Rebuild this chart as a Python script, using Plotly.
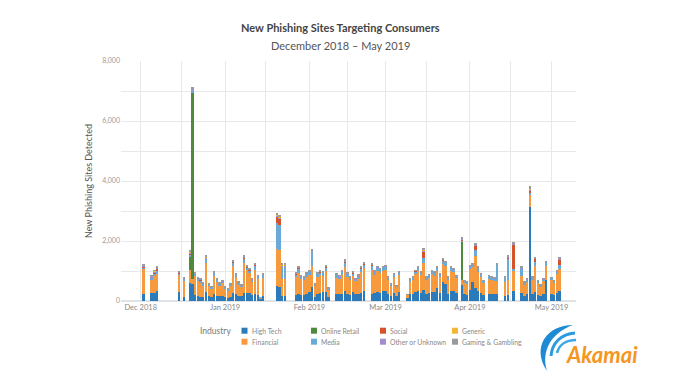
import plotly.graph_objects as go

# ---------------- data ----------------
dates = [
    # Dec 2018
    "2018-12-02", "2018-12-05", "2018-12-06", "2018-12-07", "2018-12-15", "2018-12-17",
    "2018-12-19", "2018-12-20", "2018-12-21", "2018-12-22", "2018-12-23", "2018-12-24",
    "2018-12-25", "2018-12-26", "2018-12-27", "2018-12-28", "2018-12-29", "2018-12-30", "2018-12-31",
    # Jan 2019
    "2019-01-01", "2019-01-02", "2019-01-03", "2019-01-04", "2019-01-05", "2019-01-06", "2019-01-07",
    "2019-01-08", "2019-01-09", "2019-01-10", "2019-01-11", "2019-01-12", "2019-01-13", "2019-01-14",
    "2019-01-15", "2019-01-20", "2019-01-21", "2019-01-22", "2019-01-23", "2019-01-27", "2019-01-28",
    "2019-01-29", "2019-01-30", "2019-01-31",
    # Feb 2019
    "2019-02-01", "2019-02-02", "2019-02-03", "2019-02-04", "2019-02-05", "2019-02-06", "2019-02-07",
    "2019-02-08", "2019-02-11", "2019-02-12", "2019-02-13", "2019-02-14", "2019-02-15", "2019-02-16",
    "2019-02-17", "2019-02-18", "2019-02-19", "2019-02-20", "2019-02-21", "2019-02-24", "2019-02-25",
    "2019-02-26", "2019-02-27", "2019-02-28",
    # Mar 2019
    "2019-03-01", "2019-03-02", "2019-03-03", "2019-03-04", "2019-03-05", "2019-03-06", "2019-03-09",
    "2019-03-10", "2019-03-11", "2019-03-12", "2019-03-13", "2019-03-14", "2019-03-15", "2019-03-16",
    "2019-03-17", "2019-03-18", "2019-03-19", "2019-03-20", "2019-03-21", "2019-03-22", "2019-03-23",
    "2019-03-24", "2019-03-25", "2019-03-26", "2019-03-27", "2019-03-29", "2019-03-30", "2019-03-31",
    # Apr 2019
    "2019-04-01", "2019-04-02", "2019-04-03", "2019-04-04", "2019-04-05", "2019-04-06", "2019-04-08",
    "2019-04-09", "2019-04-10", "2019-04-11", "2019-04-14", "2019-04-15", "2019-04-17", "2019-04-20",
    "2019-04-21", "2019-04-22", "2019-04-23", "2019-04-24", "2019-04-25", "2019-04-26", "2019-04-27",
    "2019-04-28", "2019-04-29",
    # May 2019
    "2019-05-01", "2019-05-02", "2019-05-03", "2019-05-04",
]

high_tech = [
    230, 260, 280, 340, 310, 140, 600, 560, 200, 170, 150, 140, 310, 180, 130, 250, 160, 170, 170,
    120, 110, 150, 280, 230, 180, 160, 280, 260, 270, 190, 220, 200, 80, 160, 500, 480, 180, 170,
    210, 220, 200, 190, 250,
    300, 460, 150, 240, 260, 290, 300, 150, 230, 220, 250, 320, 220, 210, 290, 230, 240, 270, 330,
    250, 270, 290, 280, 330,
    340, 240, 180, 260, 160, 300, 100, 230, 250, 300, 320, 280, 360, 240, 260, 300, 290, 420, 280,
    620, 560, 250, 350, 330, 260, 520, 220, 200,
    380, 620, 450, 330, 270, 200, 250, 230, 230, 250, 180, 200, 340, 260, 180, 220, 3120, 240, 300,
    200, 170, 230, 700,
    240, 210, 280, 320,
]
financial = [
    850, 450, 570, 560, 560, 540, 430, 160, 620, 500, 460, 380, 960, 320, 300, 570, 480, 360, 430,
    290, 250, 350, 880, 560, 380, 320, 1000, 760, 650, 470, 800, 520, 20, 610, 1250, 1220, 560, 560,
    590, 730, 540, 500, 560,
    580, 700, 350, 570, 600, 560, 700, 230, 550, 520, 620, 820, 580, 480, 540, 430, 500, 700, 780,
    800, 610, 700, 650, 660,
    690, 470, 340, 540, 310, 560, 100, 420, 450, 600, 680, 580, 920, 470, 520, 600, 560, 580, 530,
    620, 600, 460, 650, 630, 500, 180, 400, 370,
    680, 500, 1050, 650, 530, 420, 480, 460, 440, 420, 460, 500, 690, 560, 370, 430, 430, 460, 880,
    410, 320, 430, 480,
    450, 400, 610, 760,
]
online_retail = [
    0, 0, 0, 0, 0, 0, 450, 6230, 0, 0, 0, 0, 0, 0, 0, 0, 0, 0, 0,
    0, 0, 0, 0, 0, 0, 0, 0, 0, 0, 0, 0, 0, 0, 0, 0, 0, 0, 0, 0, 0, 0, 0, 0,
    0, 0, 0, 0, 0, 0, 0, 0, 0, 0, 0, 0, 0, 0, 0, 0, 0, 0, 0, 0, 0, 0, 0, 0,
    0, 0, 0, 0, 0, 0, 0, 0, 0, 0, 0, 0, 0, 0, 0, 0, 0, 0, 0, 0, 0, 0, 0, 0, 0, 1280, 0, 0,
    0, 0, 0, 0, 0, 0, 0, 0, 0, 0, 0, 0, 0, 0, 0, 0, 0, 0, 0, 0, 0, 0, 0,
    0, 0, 0, 0,
]
media = [
    40, 60, 80, 100, 50, 60, 80, 60, 80, 70, 80, 50, 130, 50, 40, 80, 60, 50, 60,
    40, 40, 50, 120, 80, 50, 40, 140, 110, 100, 60, 160, 90, 10, 100, 840, 820, 400, 410,
    90, 130, 80, 80, 90,
    90, 480, 60, 90, 100, 90, 120, 50, 90, 80, 110, 150, 100, 80, 100, 70, 90, 120, 120,
    140, 100, 120, 110, 110,
    120, 70, 50, 90, 40, 80, 20, 60, 80, 90, 100, 90, 160, 70, 90, 100, 90, 110, 80,
    120, 110, 70, 110, 100, 80, 40, 60, 50,
    100, 100, 200, 130, 90, 60, 110, 90, 90, 530, 130, 700, 40, 250, 70, 80, 80, 80, 120,
    65, 50, 70, 100,
    80, 65, 100, 120,
]
social = [
    20, 20, 30, 70, 20, 10, 30, 20, 10, 10, 10, 10, 30, 0, 0, 20, 10, 0, 0,
    0, 0, 0, 20, 10, 0, 0, 40, 20, 20, 0, 20, 10, 0, 10, 220, 220, 20, 20, 10, 20, 10, 0, 10,
    10, 20, 0, 10, 10, 0, 20, 0, 10, 10, 10, 40, 10, 0, 10, 0, 0, 10, 20, 20, 10, 15, 10, 10,
    10, 0, 0, 0, 0, 0, 0, 0, 0, 10, 10, 0, 220, 0, 0, 0, 0, 0, 0, 20, 0, 0, 0, 0, 0, 20, 0, 0,
    0, 0, 150, 0, 0, 0, 0, 0, 0, 20, 0, 60, 820, 20, 0, 0, 50, 0, 110, 0, 0, 0, 10,
    0, 0, 0, 180,
]
other_unknown = [
    30, 20, 30, 30, 20, 20, 40, 40, 20, 20, 20, 10, 30, 15, 10, 20, 10, 10, 15,
    10, 10, 15, 20, 15, 10, 10, 20, 15, 15, 15, 20, 15, 0, 15, 50, 50, 30, 30, 15, 15, 10, 15, 10,
    10, 20, 10, 10, 15, 10, 15, 5, 15, 10, 15, 20, 15, 15, 10, 10, 15, 15, 10, 15, 15, 15, 15, 10,
    15, 10, 5, 10, 5, 10, 0, 10, 10, 10, 15, 10, 30, 10, 10, 10, 12, 10, 10, 15, 15, 10, 10, 10, 5,
    30, 5, 5,
    15, 10, 30, 10, 10, 5, 5, 10, 10, 10, 10, 20, 30, 20, 5, 5, 50, 10, 20, 5, 5, 10, 15,
    10, 5, 15, 20,
]
generic = [
    10, 10, 10, 10, 0, 0, 10, 10, 0, 0, 0, 0, 10, 0, 0, 0, 0, 0, 0,
    0, 0, 0, 0, 0, 0, 0, 10, 0, 0, 0, 0, 0, 0, 0, 20, 20, 10, 10, 0, 0, 0, 0, 0,
    0, 0, 0, 0, 0, 0, 0, 0, 0, 0, 0, 10, 0, 0, 0, 0, 0, 0, 0, 0, 0, 0, 0, 0,
    0, 0, 0, 0, 0, 0, 0, 0, 0, 0, 0, 0, 10, 0, 0, 0, 0, 0, 0, 0, 0, 0, 0, 0, 0, 10, 0, 0,
    0, 0, 10, 0, 0, 0, 0, 0, 0, 0, 0, 0, 0, 0, 0, 0, 20, 0, 0, 0, 0, 0, 0,
    0, 0, 0, 0,
]
gaming_gambling = [
    50, 30, 30, 40, 40, 30, 60, 70, 40, 30, 30, 20, 55, 20, 20, 30, 30, 20, 25,
    15, 10, 20, 40, 25, 20, 10, 35, 30, 25, 25, 30, 25, 0, 25, 70, 70, 60, 50, 30, 30, 25, 25, 25,
    20, 40, 20, 25, 25, 25, 25, 15, 25, 25, 25, 30, 25, 25, 25, 20, 25, 30, 30, 30, 25, 25, 25, 25,
    25, 20, 15, 20, 15, 25, 10, 20, 20, 20, 25, 20, 50, 20, 20, 20, 25, 25, 20, 25, 25, 20, 25, 20,
    20, 40, 15, 15,
    25, 25, 50, 25, 20, 15, 20, 20, 20, 25, 30, 50, 55, 35, 20, 20, 80, 20, 45, 20, 15, 20, 25,
    20, 20, 25, 50,
]

industries = ["High Tech", "Financial", "Online Retail", "Media", "Social",
              "Other or Unknown", "Generic", "Gaming & Gambling"]
colors = ["#2b7bba", "#f79a3e", "#4f8a3c", "#6aaad8", "#d4532b",
          "#a58bd0", "#f2b735", "#9a9a9a"]
values = [high_tech, financial, online_retail, media, social,
          other_unknown, generic, gaming_gambling]

month_ticks = ["2018-12-01", "2019-01-01", "2019-02-01", "2019-03-01", "2019-04-01", "2019-05-01"]
month_labels = ["Dec 2018", "Jan 2019", "Feb 2019", "Mar 2019", "Apr 2019", "May 2019"]
mid_month_grid = ["2018-12-16", "2019-01-16", "2019-02-15", "2019-03-16", "2019-04-16"]

# legend layout: two rows of four entries (reading order as in the reference)
legend_rows = [["High Tech", "Online Retail", "Social", "Generic"],
               ["Financial", "Media", "Other or Unknown", "Gaming & Gambling"]]

# ---------------- figure ----------------
FONT = "Lato, 'Open Sans', sans-serif"
L, R, T, B = 121, 104, 61, 88
W, H = 680, 389
PW, PH = W - L - R, H - T - B


def px(xp, yp):
    """pixel position in the page -> paper coordinates (for decorations)"""
    return (xp - L) / PW, (H - B - yp) / PH


fig = go.Figure()
for name, vals, col in zip(industries, values, colors):
    fig.add_trace(go.Bar(x=dates, y=vals, name=name, marker=dict(color=col, line=dict(width=0)),
                         showlegend=False))

fig.update_layout(
    width=W, height=H,
    margin=dict(l=L, r=R, t=T, b=B, pad=0),
    paper_bgcolor="white", plot_bgcolor="white",
    barmode="stack", bargap=0.12,
    showlegend=False,
    font=dict(family=FONT, color="#666"),
    xaxis=dict(type="date", range=["2018-11-23 18:00", "2019-05-10"],
               tickmode="array", tickvals=month_ticks, ticktext=month_labels,
               ticks="", showgrid=True, gridcolor="#e6e8ec", gridwidth=1,
               minor=dict(tickmode="array", tickvals=mid_month_grid, showgrid=True,
                          gridcolor="#e6e8ec", ticks=""),
               tickfont=dict(family=FONT, size=7.5, color="#888"),
               showline=False, zeroline=False),
    yaxis=dict(range=[0, 8000], dtick=2000, tickformat=",", ticks="",
               showgrid=True, gridcolor="#e6e8ec",
               minor=dict(dtick=1000, showgrid=True, gridcolor="#e6e8ec"),
               tickfont=dict(family=FONT, size=7, color="#999"),
               title=dict(text="New Phishing Sites Detected", standoff=8,
                          font=dict(family=FONT, size=9, color="#555")),
               zeroline=True, zerolinecolor="#dfe2e6", showline=False),
)

# titles
tx, ty = px(340, 27)
_, sy = px(340, 45)
fig.add_annotation(text="<b>New Phishing Sites Targeting Consumers</b>", x=tx, y=ty,
                   xref="paper", yref="paper", showarrow=False, xanchor="center", yanchor="middle",
                   font=dict(family=FONT, size=11, color="#444"))
fig.add_annotation(text="December 2018 – May 2019", x=tx, y=sy,
                   xref="paper", yref="paper", showarrow=False, xanchor="center", yanchor="middle",
                   font=dict(family=FONT, size=11, color="#555"))

# legend (heading + swatches + labels)
ix, iy = px(215, 331)
fig.add_annotation(text="Industry", x=ix, y=iy, xref="paper", yref="paper", showarrow=False,
                   xanchor="center", yanchor="middle", font=dict(family=FONT, size=8.5, color="#777"))
col_x = [244.5, 314, 383, 455]
row_y = [330.7, 341.7]
for r, row in enumerate(legend_rows):
    for c, name in enumerate(row):
        cx, cy = col_x[c], row_y[r]
        x0, y0 = px(cx - 3, cy + 3)
        x1, y1 = px(cx + 3, cy - 3)
        fig.add_shape(type="rect", xref="paper", yref="paper", x0=x0, y0=y0, x1=x1, y1=y1,
                      fillcolor=colors[industries.index(name)], line=dict(width=0))
        lx, ly = px(cx + 5, cy)
        fig.add_annotation(text=name, x=lx, y=ly, xref="paper", yref="paper", showarrow=False,
                           xanchor="left", yanchor="middle",
                           font=dict(family=FONT, size=6.8, color="#888"))

# Akamai logo (decoration)
def path(cmds):
    out = []
    for c in cmds:
        if isinstance(c, str):
            out.append(c)
        else:
            x, y = px(*c)
            out.append(f"{x:.4f},{y:.4f}")
    return " ".join(out)

crescent = path(["M", (573, 325), "C", (547, 325), (531, 347), (547, 371),
                 "C", (541, 351), (551, 333), (573, 325), "Z"])
arc2 = path(["M", (551, 356), "C", (552, 343), (561, 334), (575, 333)])
arc3 = path(["M", (557, 353), "C", (559, 345), (566, 340), (576, 340)])
fig.add_shape(type="path", path=crescent, xref="paper", yref="paper",
              fillcolor="#1e8ad3", line=dict(width=0), layer="above")
fig.add_shape(type="path", path=arc2, xref="paper", yref="paper",
              line=dict(color="#2a9be0", width=3), layer="above")
fig.add_shape(type="path", path=arc3, xref="paper", yref="paper",
              line=dict(color="#3aa8e8", width=2.5), layer="above")
ax_, ay_ = px(602, 354)
fig.add_annotation(text="<b><i>Akamai</i></b>", x=ax_, y=ay_, xref="paper", yref="paper",
                   showarrow=False, xanchor="center", yanchor="middle",
                   font=dict(family=FONT, size=22, color="#f5961f"))

fig.write_html("out.html", config={"displayModeBar": False},
               post_script="document.body.style.margin='0';document.body.style.padding='0';")
